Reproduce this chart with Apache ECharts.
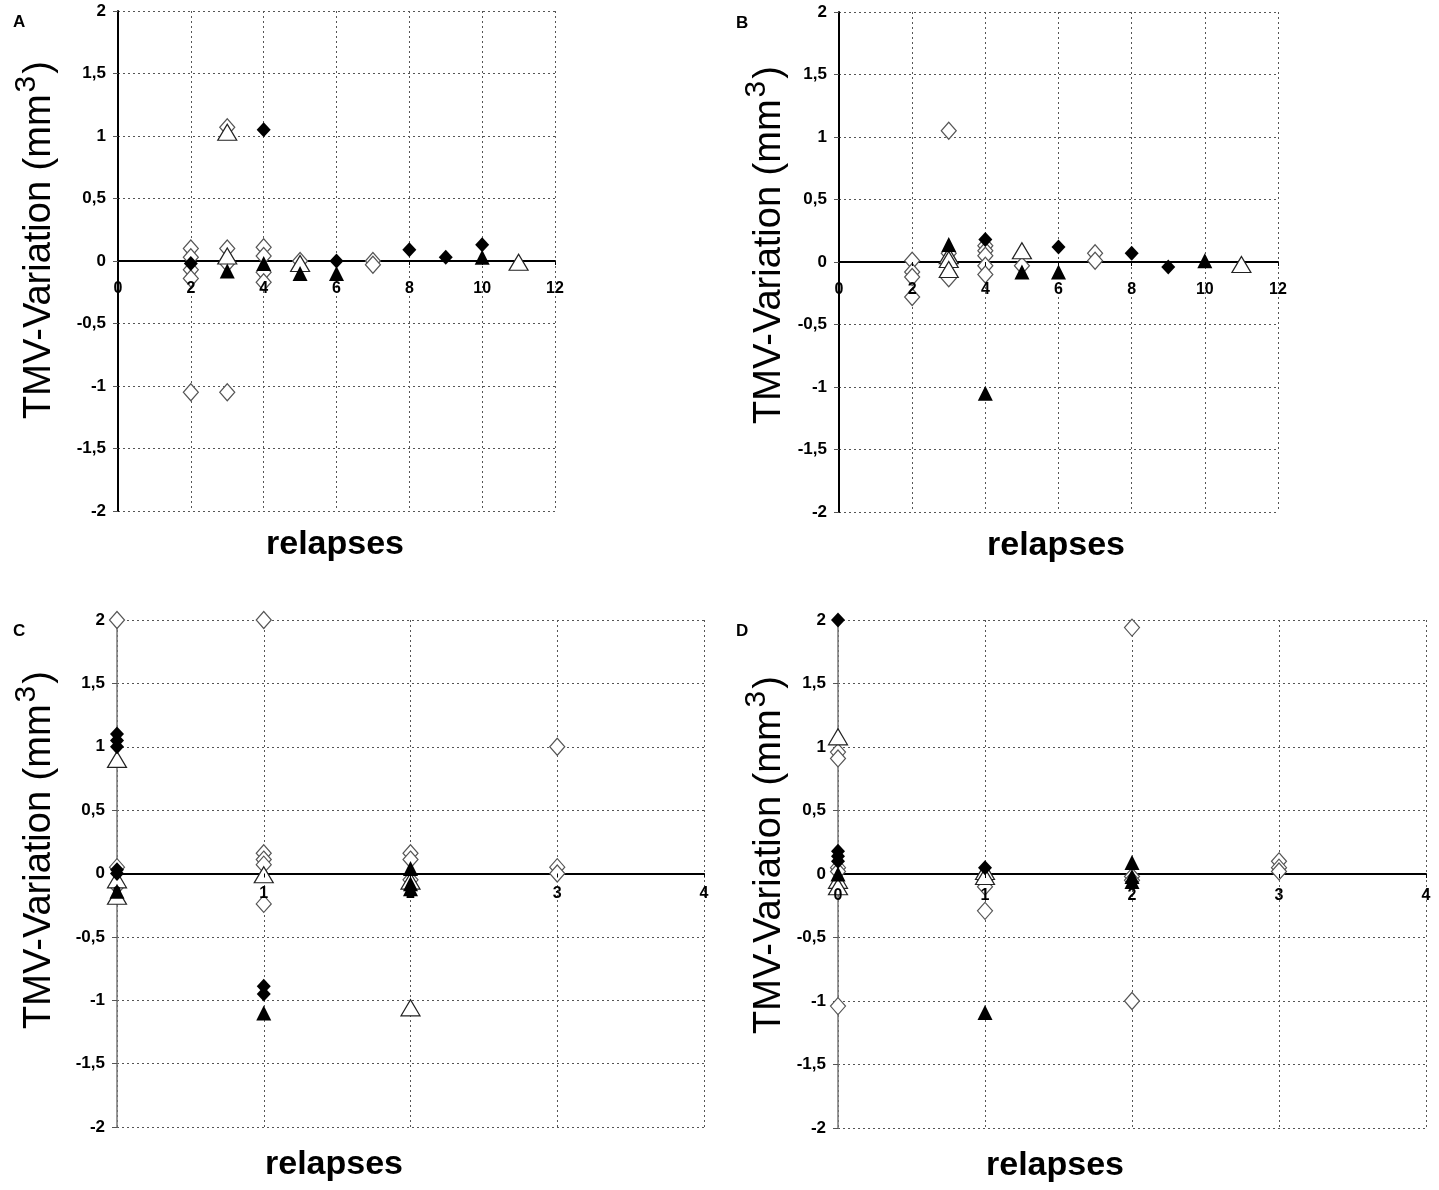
<!DOCTYPE html>
<html>
<head>
<meta charset="utf-8">
<script src="https://cdn.jsdelivr.net/npm/echarts@6/dist/echarts.min.js"></script>
<style>
html,body{margin:0;padding:0;background:#fff;}
#chart{width:1439px;height:1190px;}
</style>
</head>
<body>
<div id="chart"></div>
<script>
// ---- Data (x = relapses, y = TMV-Variation mm3) ----
const yTicks = [-2, -1.5, -1, -0.5, 0, 0.5, 1, 1.5, 2];
const xTicksAB = [0, 2, 4, 6, 8, 10, 12];
const xTicksCD = [0, 1, 2, 3, 4];

// Panel A
const A_openDiamond = [[2,0.1],[2,0.03],[2,-0.07],[2,-0.14],[2,-1.05],[3,1.07],[3,0.1],[3,-0.02],[3,-1.05],[4,0.11],[4,0.04],[4,-0.09],[4,-0.17],[5,0.0],[7,0.0],[7,-0.03]];
const A_openTriangle = [[3,1.03],[3,0.04],[5,-0.02],[11,-0.01]];
const A_filledDiamond = [[2,-0.02],[4,1.05],[6,0.0],[8,0.09],[9,0.03],[10,0.13]];
const A_filledTriangle = [[3,-0.08],[4,-0.02],[5,-0.1],[6,-0.1],[10,0.03]];

// Panel B
const B_openDiamond = [[2,0.01],[2,-0.08],[2,-0.12],[2,-0.28],[3,1.05],[3,0.07],[3,-0.1],[3,-0.13],[4,0.13],[4,0.09],[4,0.05],[4,-0.03],[4,-0.1],[5,-0.03],[7,0.07],[7,0.01]];
const B_openTriangle = [[3,0.05],[3,0.02],[3,-0.06],[5,0.09],[11,-0.02]];
const B_filledDiamond = [[4,0.18],[6,0.12],[8,0.07],[9,-0.04]];
const B_filledTriangle = [[3,0.14],[4,-1.05],[5,-0.08],[6,-0.08],[10,0.01]];

// Panel C
const C_openDiamond = [[0,2.0],[0,0.05],[0,-0.1],[1,2.0],[1,0.16],[1,0.11],[1,0.07],[1,-0.24],[2,0.16],[2,0.11],[2,-0.05],[3,1.0],[3,0.05],[3,0.0]];
const C_openTriangle = [[0,0.9],[0,-0.05],[0,-0.18],[1,-0.01],[2,-0.06],[2,-1.06]];
const C_filledDiamond = [[0,1.1],[0,1.05],[0,1.0],[0,0.03],[0,0.0],[1,-0.89],[1,-0.95]];
const C_filledTriangle = [[0,-0.14],[1,-1.1],[2,0.04],[2,-0.08],[2,-0.12]];

// Panel D
const D_openDiamond = [[0,0.96],[0,0.91],[0,0.05],[0,0.02],[0,-1.04],[1,-0.05],[1,-0.1],[1,-0.29],[2,1.94],[2,-0.02],[2,-0.05],[2,-1.0],[3,0.1],[3,0.05],[3,0.02]];
const D_openTriangle = [[0,1.08],[0,-0.05],[0,-0.1],[1,0.02],[1,-0.02]];
const D_filledDiamond = [[0,2.0],[0,0.18],[0,0.14],[0,0.1],[1,0.05]];
const D_filledTriangle = [[0,0.0],[1,-1.09],[2,0.09],[2,-0.02],[2,-0.06]];

const panelLetters = ['A','B','C','D'];
const yTitle = 'TMV-Variation (mm';
const xTitle = 'relapses';

// ---- Build chart ----
const FONT = 'Liberation Sans, Arial, sans-serif';
const grids = [
  {left:118, top:11, width:437, height:500},
  {left:839, top:12, width:439, height:500},
  {left:117, top:620, width:587, height:507},
  {left:838, top:620, width:588, height:508}
];
const yTitlePos = [[40,240],[770,245],[40,850],[770,855]];
const xLabelMargin = [20, 20, 12, 14];
const xTitleGap = [34, 34, 38, 38];
const panels = [
  {od:A_openDiamond, ot:A_openTriangle, fd:A_filledDiamond, ft:A_filledTriangle, xt:xTicksAB, yLine:'#000', yW:2},
  {od:B_openDiamond, ot:B_openTriangle, fd:B_filledDiamond, ft:B_filledTriangle, xt:xTicksAB, yLine:'#000', yW:2},
  {od:C_openDiamond, ot:C_openTriangle, fd:C_filledDiamond, ft:C_filledTriangle, xt:xTicksCD, yLine:'#777', yW:1.5},
  {od:D_openDiamond, ot:D_openTriangle, fd:D_filledDiamond, ft:D_filledTriangle, xt:xTicksCD, yLine:'#777', yW:1.5}
];
const styles = {
  od: {symbol:'diamond', symbolSize:[15,17], itemStyle:{color:'#fff', borderColor:'#555', borderWidth:1.2, opacity:1}},
  ot: {symbol:'triangle', symbolSize:[19,16], itemStyle:{color:'#fff', borderColor:'#222', borderWidth:1.2, opacity:1}},
  fd: {symbol:'diamond', symbolSize:[14,15], itemStyle:{color:'#000', opacity:1}},
  ft: {symbol:'triangle', symbolSize:[15,15], itemStyle:{color:'#000', opacity:1}}
};
const splitStyle = {show:true, lineStyle:{type:[2,3], color:'#555', width:1}};

const xAxes = [], yAxes = [], series = [], graphics = [];
panels.forEach((p, i) => {
  const xt = p.xt;
  const g = grids[i];
  // label axis (drawn above the markers)
  xAxes.push({
    type:'value', gridIndex:i, min:xt[0], max:xt[xt.length-1], interval:xt[1]-xt[0],
    position:'bottom', offset:-g.height/2, z:5,
    axisLine:{show:false, onZero:false},
    axisTick:{show:true, length:4, lineStyle:{color:'#000'}},
    axisLabel:{show:true, color:'#000', fontFamily:FONT, fontWeight:'bold', fontSize:16, margin:xLabelMargin[i],
      showMinLabel:true, showMaxLabel:true},
    splitLine:{show:false}
  });
  // line + grid axis (drawn below the markers)
  xAxes.push({
    type:'value', gridIndex:i, min:xt[0], max:xt[xt.length-1], interval:xt[1]-xt[0],
    position:'bottom', offset:-g.height/2,
    axisLine:{show:true, onZero:false, lineStyle:{color:'#000', width:2}},
    axisTick:{show:false},
    axisLabel:{show:false},
    splitLine:splitStyle
  });
  yAxes.push({
    type:'value', gridIndex:i, min:yTicks[0], max:yTicks[yTicks.length-1], interval:yTicks[1]-yTicks[0],
    axisLine:{show:true, onZero:false, lineStyle:{color:p.yLine, width:p.yW}},
    axisTick:{show:true, length:5, lineStyle:{color:'#555'}},
    axisLabel:{color:'#000', fontFamily:FONT, fontWeight:'bold', fontSize:17, margin:12,
      formatter: v => String(v).replace('.', ',')},
    splitLine:splitStyle
  });
  ['od','ot','fd','ft'].forEach(k => {
    series.push(Object.assign({
      type:'scatter', xAxisIndex:2*i, yAxisIndex:i, data:p[k], z:2
    }, styles[k]));
  });
  graphics.push({
    type:'text', left:(i%2===0?13:736), top:g.top+3,
    style:{text:panelLetters[i], font:'bold 17px ' + FONT, fill:'#000'}
  });
  graphics.push({
    type:'text', x:g.left + 217, y:g.top + g.height + xTitleGap[i],
    style:{text:xTitle, font:'bold 34px ' + FONT, fill:'#000', align:'center', verticalAlign:'middle'}
  });
  graphics.push({
    type:'text', x:yTitlePos[i][0], y:yTitlePos[i][1], rotation:Math.PI/2,
    style:{
      text:'{a|' + yTitle + '}{s|3}{a|)}',
      align:'center', verticalAlign:'middle',
      rich:{
        a:{fontSize:38, fontFamily:FONT, fill:'#000', lineHeight:56, verticalAlign:'middle'},
        s:{fontSize:30, fontFamily:FONT, fill:'#000', lineHeight:34, verticalAlign:'top', padding:[0,2,0,2]}
      }
    }
  });
});

const chart = echarts.init(document.getElementById('chart'), null, {renderer:'canvas'});
chart.setOption({
  animation:false,
  backgroundColor:'#fff',
  grid:grids,
  xAxis:xAxes,
  yAxis:yAxes,
  series:series,
  graphic:graphics
});
</script>
</body>
</html>
